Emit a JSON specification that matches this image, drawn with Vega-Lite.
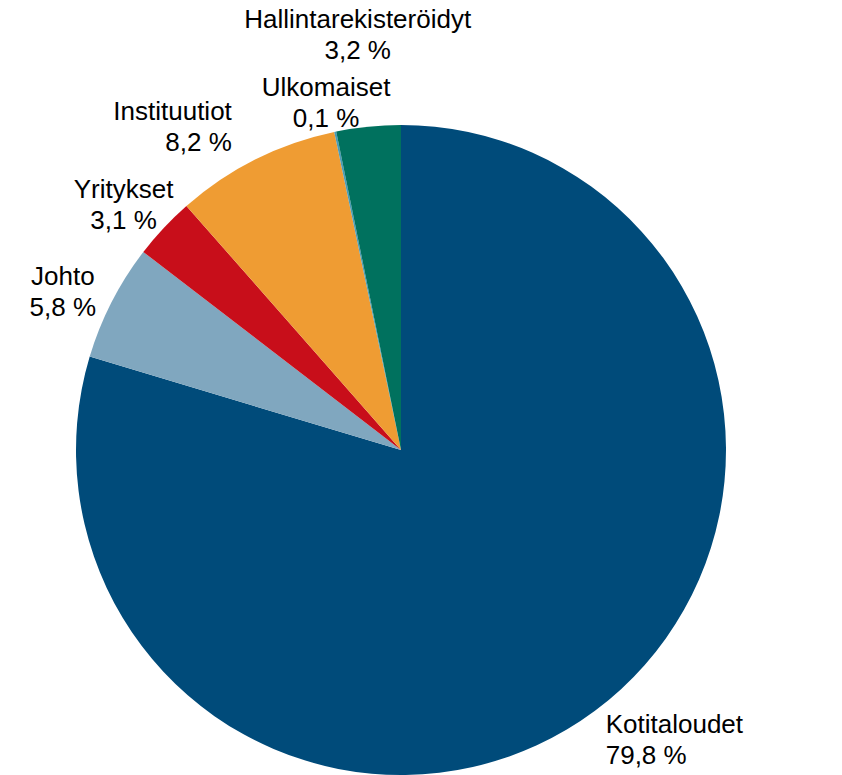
{
  "$schema": "https://vega.github.io/schema/vega-lite/v6.json",
  "width": 650,
  "height": 650,
  "autosize": {"type": "none"},
  "padding": {"left": 76, "top": 125, "right": 116, "bottom": 0},
  "background": "white",
  "data": {
    "values": [
      {"name": "Kotitaloudet", "value": 79.8, "pct": "79,8 %", "order": 1},
      {"name": "Johto", "value": 5.8, "pct": "5,8 %", "order": 2},
      {"name": "Yritykset", "value": 3.1, "pct": "3,1 %", "order": 3},
      {"name": "Instituutiot", "value": 8.2, "pct": "8,2 %", "order": 4},
      {"name": "Ulkomaiset", "value": 0.1, "pct": "0,1 %", "order": 5},
      {"name": "Hallintarekisteröidyt", "value": 3.2, "pct": "3,2 %", "order": 6}
    ]
  },
  "transform": [{"calculate": "datum.name + '|' + datum.pct", "as": "label"}],
  "encoding": {
    "theta": {"field": "value", "type": "quantitative", "stack": true},
    "order": {"field": "order", "type": "quantitative"}
  },
  "layer": [
    {
      "mark": {"type": "arc"},
      "encoding": {
        "color": {
          "field": "name",
          "type": "nominal",
          "scale": {
            "domain": ["Kotitaloudet", "Johto", "Yritykset", "Instituutiot", "Ulkomaiset", "Hallintarekisteröidyt"],
            "range": ["#004b7a", "#80a7bf", "#c80e1a", "#ef9c33", "#4a9bb5", "#00715e"]
          },
          "legend": null
        }
      }
    },
    {
      "mark": {"type": "text", "radius": 343, "align": "left", "baseline": "middle", "lineBreak": "|", "lineHeight": 31, "font": "Liberation Sans", "fontSize": 26, "color": "black"},
      "encoding": {
        "text": {"condition": {"test": "datum.name === 'Kotitaloudet'", "field": "label"}, "value": ""}
      }
    },
    {
      "mark": {"type": "text", "radius": 380, "align": "center", "baseline": "middle", "lineBreak": "|", "lineHeight": 31, "font": "Liberation Sans", "fontSize": 26, "color": "black"},
      "encoding": {
        "text": {"condition": {"test": "datum.name === 'Johto' || datum.name === 'Yritykset'", "field": "label"}, "value": ""}
      }
    },
    {
      "mark": {"type": "text", "radius": 378, "align": "right", "baseline": "middle", "lineBreak": "|", "lineHeight": 31, "font": "Liberation Sans", "fontSize": 26, "color": "black"},
      "encoding": {
        "text": {"condition": {"test": "datum.name === 'Instituutiot'", "field": "label"}, "value": ""}
      }
    },
    {
      "mark": {"type": "text", "radius": 370, "align": "center", "baseline": "middle", "lineBreak": "|", "lineHeight": 31, "font": "Liberation Sans", "fontSize": 26, "color": "black"},
      "encoding": {
        "text": {"condition": {"test": "datum.name === 'Ulkomaiset'", "field": "label"}, "value": ""}
      }
    },
    {
      "mark": {"type": "text", "radius": 432, "align": "center", "baseline": "middle", "lineBreak": "|", "lineHeight": 31, "font": "Liberation Sans", "fontSize": 26, "color": "black"},
      "encoding": {
        "text": {"condition": {"test": "datum.name === 'Hallintarekisteröidyt'", "field": "label"}, "value": ""}
      }
    }
  ],
  "config": {"view": {"stroke": null}}
}
